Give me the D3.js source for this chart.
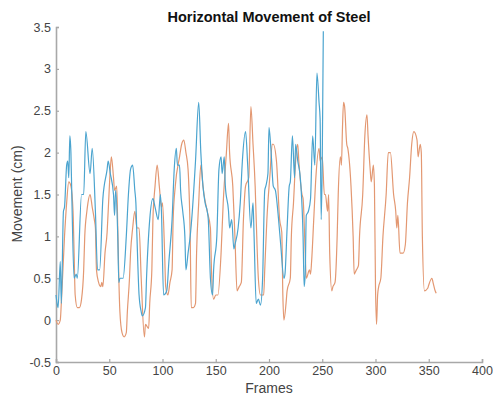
<!DOCTYPE html>
<html><head><meta charset="utf-8">
<script src="https://cdn.jsdelivr.net/npm/d3@7"></script>
<style>body{margin:0;background:#fff}svg{display:block}</style>
</head><body>
<script>
const title = "Horizontal Movement of Steel";
const xLabel = "Frames";
const yLabel = "Movement (cm)";
const xTicks = [0,50,100,150,200,250,300,350,400];
const yTicks = [-0.5,0,0.5,1,1.5,2,2.5,3,3.5];

const blueFrames = [0,1,2,4,5,7,8,10,11,12,13,14,15,17,19,20,24,26,28,32,34,37,39,41,44,48,49,51,54,55,56,58,59,60,63,66,68,70,72,74,75,76,78,80,81,84,85,88,91,93,96,98,99,101,104,106,109,111,113,114,116,117,119,121,122,124,126,128,131,134,136,138,140,142,143,145,147,148,151,153,155,156,158,159,162,163,165,167,168,171,173,175,178,180,183,185,186,188,190,192,194,196,197,199,200,202,204,206,209,211,214,215,217,219,220,222,224,225,227,229,230,232,233,234,235,237,239,241,243,245,247,248,249,250,251];
const blueValues = [0.3,0.2,0.15,0.7,0.2,1.3,1.35,1.85,1.9,1.7,2.2,2.0,1.4,0.5,0.55,0.5,1.5,1.5,2.25,1.75,2.05,1.3,0.6,0.6,1.45,1.8,1.9,1.75,1.5,1.25,1.55,1.0,0.45,0.5,0.5,1.0,1.5,1.8,1.85,1.55,1.4,1.0,0.3,0.1,0.05,0.15,0.5,1.2,1.45,1.35,1.2,1.5,1.3,0.3,0.35,0.7,1.2,1.8,2.05,1.85,1.85,1.55,1.3,1.0,0.6,0.8,1.0,1.3,1.9,2.6,2.0,1.6,1.4,1.3,1.2,0.5,0.3,0.6,1.0,1.8,1.95,1.75,1.95,1.6,1.3,1.1,1.2,0.85,0.9,1.1,1.4,1.9,2.25,1.85,1.1,1.4,1.0,0.2,0.25,0.18,0.5,1.55,1.6,1.75,2.3,2.0,1.6,1.55,1.2,0.9,0.5,0.55,1.1,1.6,1.65,2.2,1.7,2.1,1.9,1.75,1.6,1.0,0.4,0.55,1.25,1.3,1.45,2.2,1.85,2.95,2.6,2.4,1.2,1.9,3.45];

const orangeFrames = [0,2,4,5,8,10,12,14,16,17,18,20,22,24,26,27,29,30,32,34,36,37,38,40,42,43,44,46,48,49,51,52,54,55,57,58,59,60,62,64,66,67,69,70,72,74,76,78,80,83,84,87,88,90,91,93,95,97,99,100,102,103,105,107,109,110,112,116,118,120,122,124,126,127,129,131,132,134,136,138,139,142,145,146,148,150,152,155,157,160,162,163,166,168,170,172,174,176,178,181,183,185,187,188,190,192,195,196,198,201,203,204,207,210,212,213,214,216,217,220,221,223,225,227,228,231,232,234,235,238,239,240,242,244,247,248,250,252,253,255,256,257,259,260,262,264,265,267,268,269,270,271,273,274,277,279,280,282,284,285,288,290,292,293,295,296,298,299,300,301,302,303,305,307,310,312,314,317,319,320,321,323,326,328,330,332,334,336,339,340,342,343,344,346,349,350,353,354,356,357];
const orangeValues = [0.0,-0.05,0.0,0.2,1.0,1.4,1.65,1.6,1.3,0.8,0.3,0.15,0.15,0.25,0.6,1.0,1.3,1.4,1.5,1.35,1.2,1.1,0.6,0.45,0.4,0.45,0.4,0.8,1.05,1.3,1.8,1.95,1.7,1.55,1.6,1.1,0.5,0.1,-0.15,-0.2,-0.15,0.1,0.5,0.8,1.1,1.3,1.1,1.1,0.5,-0.2,-0.05,-0.1,0.2,0.6,1.2,1.6,1.85,1.6,1.35,1.4,0.8,0.4,0.3,0.45,0.6,1.2,1.6,1.95,2.1,2.15,2.0,1.8,1.0,0.15,0.15,0.2,0.8,1.4,1.85,1.6,1.5,1.3,1.1,0.6,0.25,0.3,0.3,0.8,1.4,2.0,2.35,2.0,1.6,1.0,0.35,0.4,0.45,1.2,1.6,1.7,2.55,2.1,1.6,1.2,0.5,0.3,0.3,0.6,1.2,1.75,2.1,2.1,1.9,1.2,1.05,0.3,0.0,0.2,0.35,0.5,1.0,1.4,1.9,2.1,1.9,1.5,1.45,0.8,0.5,0.6,0.55,0.7,1.2,1.7,2.05,1.9,1.95,1.5,1.5,1.3,1.5,0.8,0.35,0.4,0.45,1.0,1.5,1.95,1.85,2.3,2.6,2.55,2.1,2.05,1.6,1.0,0.55,0.6,0.65,1.0,1.5,2.2,2.45,2.2,1.8,1.65,1.85,1.6,0.4,-0.05,0.3,0.4,0.5,1.0,1.5,2.0,2.0,1.5,1.3,1.1,1.25,0.8,0.8,0.9,1.4,1.7,2.1,2.25,2.15,1.95,2.1,2.0,1.0,0.35,0.38,0.42,0.5,0.45,0.35,0.32];

const W = 493, H = 406;
const m = {left:56, right:11, top:27, bottom:44};
const svg = d3.select("body").append("svg").attr("width",W).attr("height",H);
const x = d3.scaleLinear().domain([0,400]).range([m.left, W-m.right]);
const y = d3.scaleLinear().domain([-0.5,3.5]).range([H-m.bottom, m.top]);
const font = "'Liberation Sans', Arial, sans-serif";

const xAxis = svg.append("g").attr("transform",`translate(0,${H-m.bottom})`)
  .call(d3.axisBottom(x).tickValues(xTicks).tickSize(-3).tickPadding(4).tickFormat(d=>String(d)));
const yAxis = svg.append("g").attr("transform",`translate(${m.left},0)`)
  .call(d3.axisLeft(y).tickValues(yTicks).tickSize(-3).tickPadding(5).tickFormat(d=>String(d)));
[xAxis,yAxis].forEach(a=>{
  a.select(".domain").attr("stroke","#a8a8a8").attr("stroke-width",1.6);
  a.selectAll(".tick line").attr("stroke","#a8a8a8").attr("stroke-width",1.2);
  a.selectAll("text").attr("fill","#444").style("font-family",font).style("font-size","12.5px");
});

const line = d3.line().x(d=>x(d[0])).y(d=>y(d[1])).curve(d3.curveMonotoneX);
const blue = blueFrames.map((f,i)=>[f,blueValues[i]]);
const orange = orangeFrames.map((f,i)=>[f,orangeValues[i]]);
svg.append("path").datum(orange).attr("d",line).attr("fill","none").attr("stroke","#e39872").attr("stroke-width",1.2);
svg.append("path").datum(blue).attr("d",line).attr("fill","none").attr("stroke","#4ba4cf").attr("stroke-width",1.2);

svg.append("text").attr("x",269).attr("y",22).attr("text-anchor","middle")
  .style("font-family",font).style("font-size","14.5px").style("font-weight","bold").attr("fill","#111").text(title);
svg.append("text").attr("x",269).attr("y",393).attr("text-anchor","middle")
  .style("font-family",font).style("font-size","14px").attr("fill","#444").text(xLabel);
svg.append("text").attr("transform","translate(22,194) rotate(-90)").attr("text-anchor","middle")
  .style("font-family",font).style("font-size","14px").attr("fill","#444").text(yLabel);
</script>
</body></html>
